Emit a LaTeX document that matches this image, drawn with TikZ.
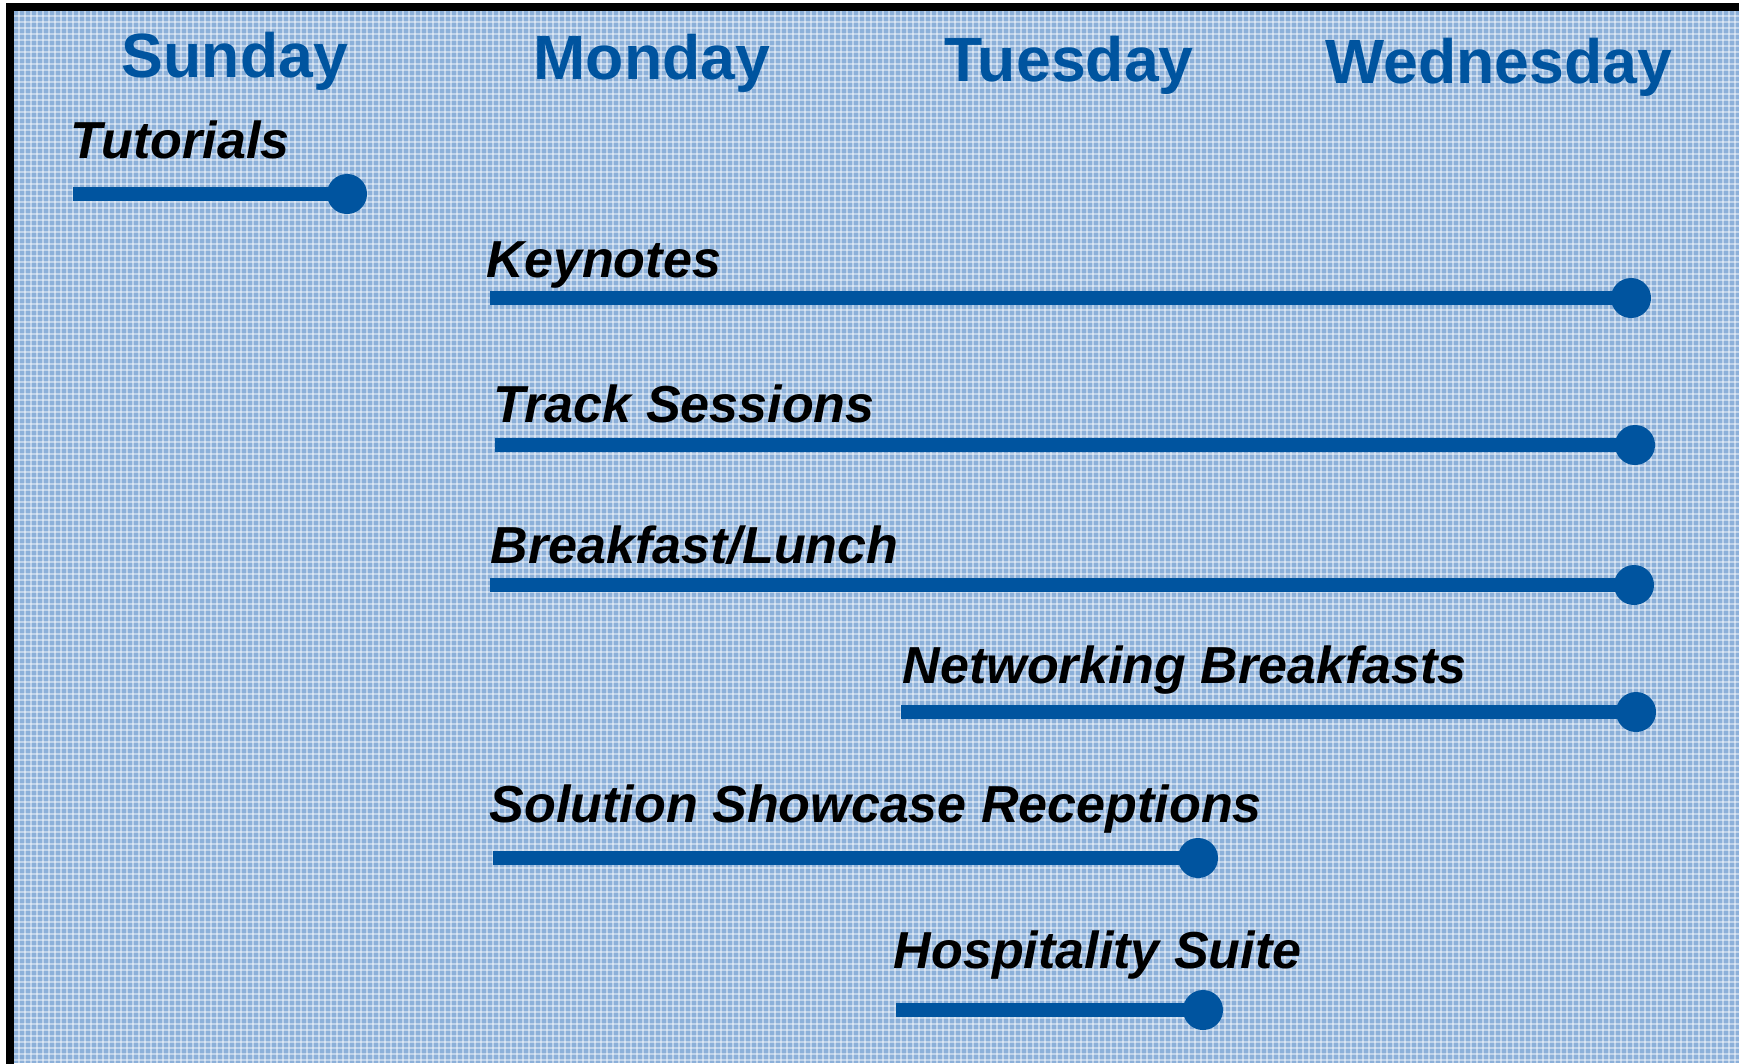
\documentclass[tikz,border=0pt]{standalone}
\usepackage{fontspec}
\setmainfont{Liberation Sans}
\usepackage{tikz}

\definecolor{barblue}{RGB}{0,84,159}
\definecolor{paper}{RGB}{140,176,217}

\tikzset{
	day/.style = {anchor=base, inner sep=0pt, text=barblue, font=\fontsize{17.8}{20}\selectfont\bfseries},
	event/.style = {anchor=base west, inner sep=0pt, font=\fontsize{14.8}{17}\selectfont\bfseries\itshape},
	bar/.style = {line width=3.9pt, barblue},
	enddot/.style = {circle, fill=barblue, inner sep=0pt, minimum size=0.4cm}
}

\begin{document}
\begin{tikzpicture}[x=0.01cm, y=-0.01cm]
	\fill [white] (0,0) rectangle (1739,1063);
	\useasboundingbox (0,0) rectangle (1739,1063);
	\fill [paper] (10,7) rectangle (1739,1063);
	\foreach \gx in {13,19,...,1739}
		\draw [white, opacity=0.45, line width=0.5pt] (\gx,7) -- (\gx,1063);
	\foreach \gy in {10,16,...,1063}
		\draw [white, opacity=0.45, line width=0.5pt] (10,\gy) -- (1739,\gy);
	\draw [line width=2.2pt, line cap=rect] (1739,7) -- (10,7) -- (10,1063);

	\node [day] (sun) at (235,77) {Sunday};
	\node [day] (mon) at (652,79) {Monday};
	\node [day] (tue) at (1069,81) {Tuesday};
	\node [day] (wed) at (1499,83) {Wednesday};

	\node [event] (tut) at (70,158) {Tutorials};
	\coordinate (tutS) at (73,194);
	\node [enddot] (tutE) at (347,194) {};
	\draw [bar] (tutS) -- (tutE.center);

	\node [event] (key) at (486,277) {Keynotes};
	\coordinate (keyS) at (490,298);
	\node [enddot] (keyE) at (1631,298) {};
	\draw [bar] (keyS) -- (keyE.center);

	\node [event] (track) at (493,422) {Track Sessions};
	\coordinate (trackS) at (495,445);
	\node [enddot] (trackE) at (1635,445) {};
	\draw [bar] (trackS) -- (trackE.center);

	\node [event] (meal) at (490,563) {Breakfast/Lunch};
	\coordinate (mealS) at (490,585);
	\node [enddot] (mealE) at (1634,585) {};
	\draw [bar] (mealS) -- (mealE.center);

	\node [event] (net) at (902,683) {Networking Breakfasts};
	\coordinate (netS) at (901,712);
	\node [enddot] (netE) at (1636,712) {};
	\draw [bar] (netS) -- (netE.center);

	\node [event] (show) at (489,822) {Solution Showcase Receptions};
	\coordinate (showS) at (493,858);
	\node [enddot] (showE) at (1198,858) {};
	\draw [bar] (showS) -- (showE.center);

	\node [event] (hosp) at (893,968) {Hospitality Suite};
	\coordinate (hospS) at (896,1010);
	\node [enddot] (hospE) at (1203,1010) {};
	\draw [bar] (hospS) -- (hospE.center);
\end{tikzpicture}
\end{document}
